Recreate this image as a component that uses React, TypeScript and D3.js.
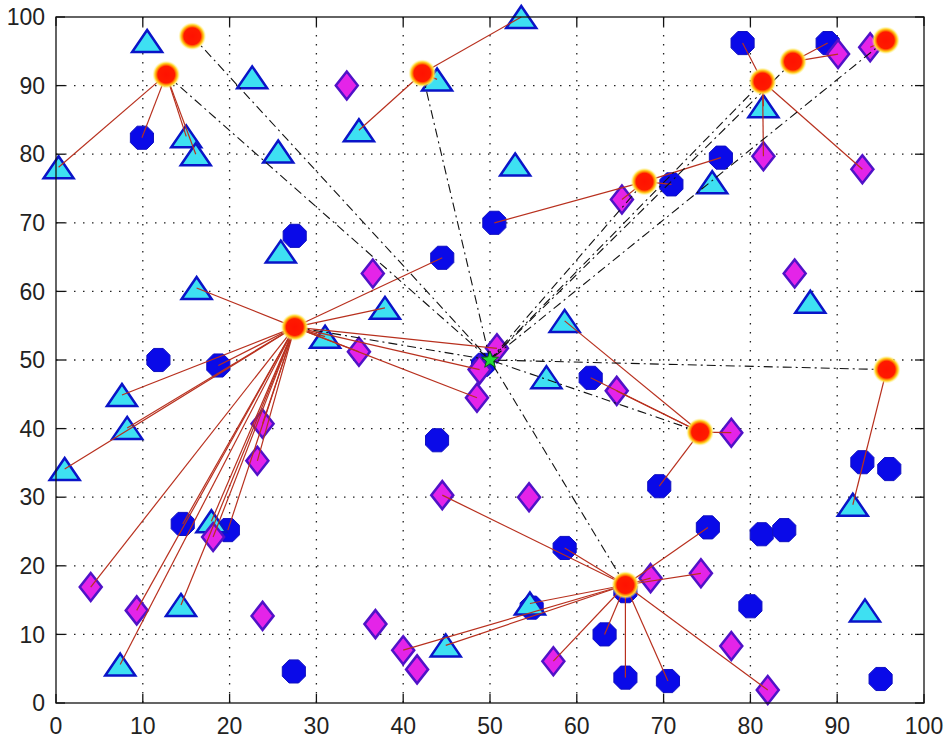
import * as d3 from 'd3'

// cluster heads (red dots with a yellow glow)
const heads: [number, number][] = [
  [15.7, 97.2], [12.7, 91.6], [42.2, 91.8], [81.4, 90.6], [84.9, 93.5],
  [95.6, 96.6], [67.8, 76.0], [27.5, 54.8], [74.2, 39.5], [95.7, 48.6],
  [65.6, 17.2],
]

// sink in the middle of the field
const sink: [number, number] = [50, 50]

// members: [x, y, index of head, -1 = not linked]
const circles: [number, number, number][] = [
  [9.9, 82.4, 1], [27.5, 68.1, -1], [44.5, 64.9, 7], [50.5, 70.0, 6],
  [70.9, 75.6, 6], [76.6, 79.5, 6], [79.1, 96.2, 3], [88.9, 96.2, 4],
  [11.8, 50.0, -1], [18.7, 49.2, 7], [49.2, 49.3, -1], [43.9, 38.3, -1],
  [61.6, 47.4, 8], [69.5, 31.6, 8], [92.9, 35.1, -1], [96.0, 34.1, -1],
  [14.6, 26.1, 7], [19.8, 25.2, 7], [27.4, 4.6, -1], [58.6, 22.6, 10],
  [54.8, 13.9, -1], [63.2, 10.0, 10], [65.6, 3.7, 10], [70.5, 3.2, 10],
  [75.1, 25.6, 10], [81.3, 24.6, -1], [83.9, 25.2, -1], [80.0, 14.1, -1],
  [95.0, 3.5, -1], [65.6, 16.3, -1],
]

const triangles: [number, number, number][] = [
  [0.3, 78.1, 1], [10.5, 96.5, -1], [15.0, 82.6, 1], [16.1, 80.0, 1],
  [22.6, 91.2, -1], [25.6, 80.4, -1], [25.9, 65.8, -1], [16.2, 60.5, 7],
  [34.9, 83.5, 2], [43.9, 90.9, 2], [53.6, 100.0, 2], [52.9, 78.5, -1],
  [37.9, 57.6, 7], [31.0, 53.4, 7], [7.6, 44.9, 7], [8.2, 40.1, 7],
  [1.0, 34.1, 7], [58.6, 55.7, 8], [56.5, 47.5, -1], [17.9, 26.5, 7],
  [14.4, 14.3, 7], [7.4, 5.6, 7], [44.9, 8.4, 10], [54.6, 14.5, 10],
  [75.6, 75.9, -1], [81.5, 87.0, 3], [86.9, 58.5, -1], [91.8, 28.9, 9],
  [93.2, 13.5, -1],
]

const diamonds: [number, number, number][] = [
  [33.5, 90.0, -1], [36.5, 62.6, -1], [34.9, 51.2, 7], [48.5, 44.5, 7],
  [48.8, 48.6, 7], [50.8, 51.7, 7], [23.8, 40.7, 7], [23.2, 35.3, 7],
  [18.1, 24.2, 7], [4.0, 16.9, 7], [9.3, 13.5, 7], [23.8, 12.7, -1],
  [36.8, 11.5, -1], [40.0, 7.7, 10], [41.6, 4.9, -1], [44.5, 30.3, 10],
  [54.5, 30.0, -1], [57.3, 6.1, 10], [64.6, 45.5, 8], [77.8, 39.4, 8],
  [68.5, 18.2, 10], [74.3, 18.9, 10], [77.8, 8.3, -1], [82.0, 1.9, 10],
  [65.2, 73.4, 6], [81.5, 79.7, 3], [85.1, 62.6, -1], [92.9, 77.8, 3],
  [90.1, 94.6, 4], [93.8, 95.6, 5],
]

const tickValues = [0, 10, 20, 30, 40, 50, 60, 70, 80, 90, 100]

const W = 945
const H = 738
const left = 56, right = 924, top = 17, bottom = 703

const x = d3.scaleLinear().domain([0, 100]).range([left, right])
const y = d3.scaleLinear().domain([0, 100]).range([bottom, top])

const octagon = (r: number) => {
  const pts = d3.range(8).map(i => {
    const a = Math.PI / 8 + (i * Math.PI) / 4
    return [r * Math.cos(a), r * Math.sin(a)]
  })
  return 'M' + pts.map(p => p.join(',')).join('L') + 'Z'
}
const trianglePath = 'M0,-11L15,11L-15,11Z'
const diamondPath = 'M0,-14L11,0L0,14L-11,0Z'
const star = (r: number) => {
  const pts = d3.range(10).map(i => {
    const a = -Math.PI / 2 + (i * Math.PI) / 5
    const rr = i % 2 ? r * 0.42 : r
    return [rr * Math.cos(a), rr * Math.sin(a)]
  })
  return 'M' + pts.map(p => p.join(',')).join('L') + 'Z'
}

const members = [...circles, ...triangles, ...diamonds].filter(d => d[2] >= 0)
const line = d3.line<[number, number]>().x(d => x(d[0])).y(d => y(d[1]))

export default function App() {
  const font = '"Liberation Sans", Arial, sans-serif'
  return (
    <svg width={W} height={H} style={{ position: 'absolute', left: 0, top: 0, background: '#fff' }}>
      <defs>
        <radialGradient id="headGlow">
          <stop offset="0" stopColor="#ff1200" />
          <stop offset="0.6" stopColor="#ff1a00" />
          <stop offset="0.7" stopColor="#ff8000" />
          <stop offset="0.82" stopColor="#ffd830" />
          <stop offset="1" stopColor="#fff6b0" stopOpacity="0" />
        </radialGradient>
      </defs>

      {/* grid */}
      <g stroke="#222" strokeWidth={1.3} strokeDasharray="1.5,7.5">
        {tickValues.slice(1, -1).map(t => (
          <g key={t}>
            <line x1={x(t)} x2={x(t)} y1={top} y2={bottom} />
            <line x1={left} x2={right} y1={y(t)} y2={y(t)} />
          </g>
        ))}
      </g>

      {/* member nodes */}
      <g>
        {circles.map((d, i) => (
          <path key={i} d={octagon(12.5)} transform={`translate(${x(d[0])},${y(d[1])})`}
            fill="#0a0ae8" stroke="#1010c0" strokeWidth={1} />
        ))}
        {triangles.map((d, i) => (
          <path key={i} d={trianglePath} transform={`translate(${x(d[0])},${y(d[1])})`}
            fill="#3ee0f2" stroke="#0a14c8" strokeWidth={2.5} strokeLinejoin="miter" />
        ))}
        {diamonds.map((d, i) => (
          <path key={i} d={diamondPath} transform={`translate(${x(d[0])},${y(d[1])})`}
            fill="#e424e8" stroke="#5012c8" strokeWidth={2.5} />
        ))}
      </g>

      {/* member -> head links */}
      <g fill="none" stroke="#b8301e" strokeWidth={1.2}>
        {members.map((d, i) => (
          <path key={i} d={line([[d[0], d[1]], heads[d[2]]]) ?? ''} />
        ))}
      </g>

      {/* head -> sink links */}
      <g fill="none" stroke="#111" strokeWidth={1.1} strokeDasharray="9,4,2,4">
        {heads.map((h, i) => (
          <path key={i} d={line([h, sink]) ?? ''} />
        ))}
      </g>

      <path d={star(9)} transform={`translate(${x(sink[0])},${y(sink[1])})`}
        fill="#22dd33" stroke="#0a5a10" strokeWidth={1} />

      {heads.map((h, i) => (
        <circle key={i} cx={x(h[0])} cy={y(h[1])} r={14} fill="url(#headGlow)" />
      ))}

      {/* axes box and ticks */}
      <rect x={left} y={top} width={right - left} height={bottom - top} fill="none" stroke="#111" strokeWidth={1.3} />
      <g stroke="#111" strokeWidth={1.3}>
        {tickValues.map(t => (
          <g key={t}>
            <line x1={x(t)} x2={x(t)} y1={bottom} y2={bottom - 9} />
            <line x1={x(t)} x2={x(t)} y1={top} y2={top + 9} />
            <line x1={left} x2={left + 9} y1={y(t)} y2={y(t)} />
            <line x1={right} x2={right - 9} y1={y(t)} y2={y(t)} />
          </g>
        ))}
      </g>
      <g fontFamily={font} fontSize={23} fill="#222">
        {tickValues.map(t => (
          <text key={'y' + t} x={left - 11} y={y(t)} dy="0.36em" textAnchor="end">{t}</text>
        ))}
        {tickValues.map(t => (
          <text key={'x' + t} x={x(t)} y={734} textAnchor="middle">{t}</text>
        ))}
      </g>
    </svg>
  )
}
